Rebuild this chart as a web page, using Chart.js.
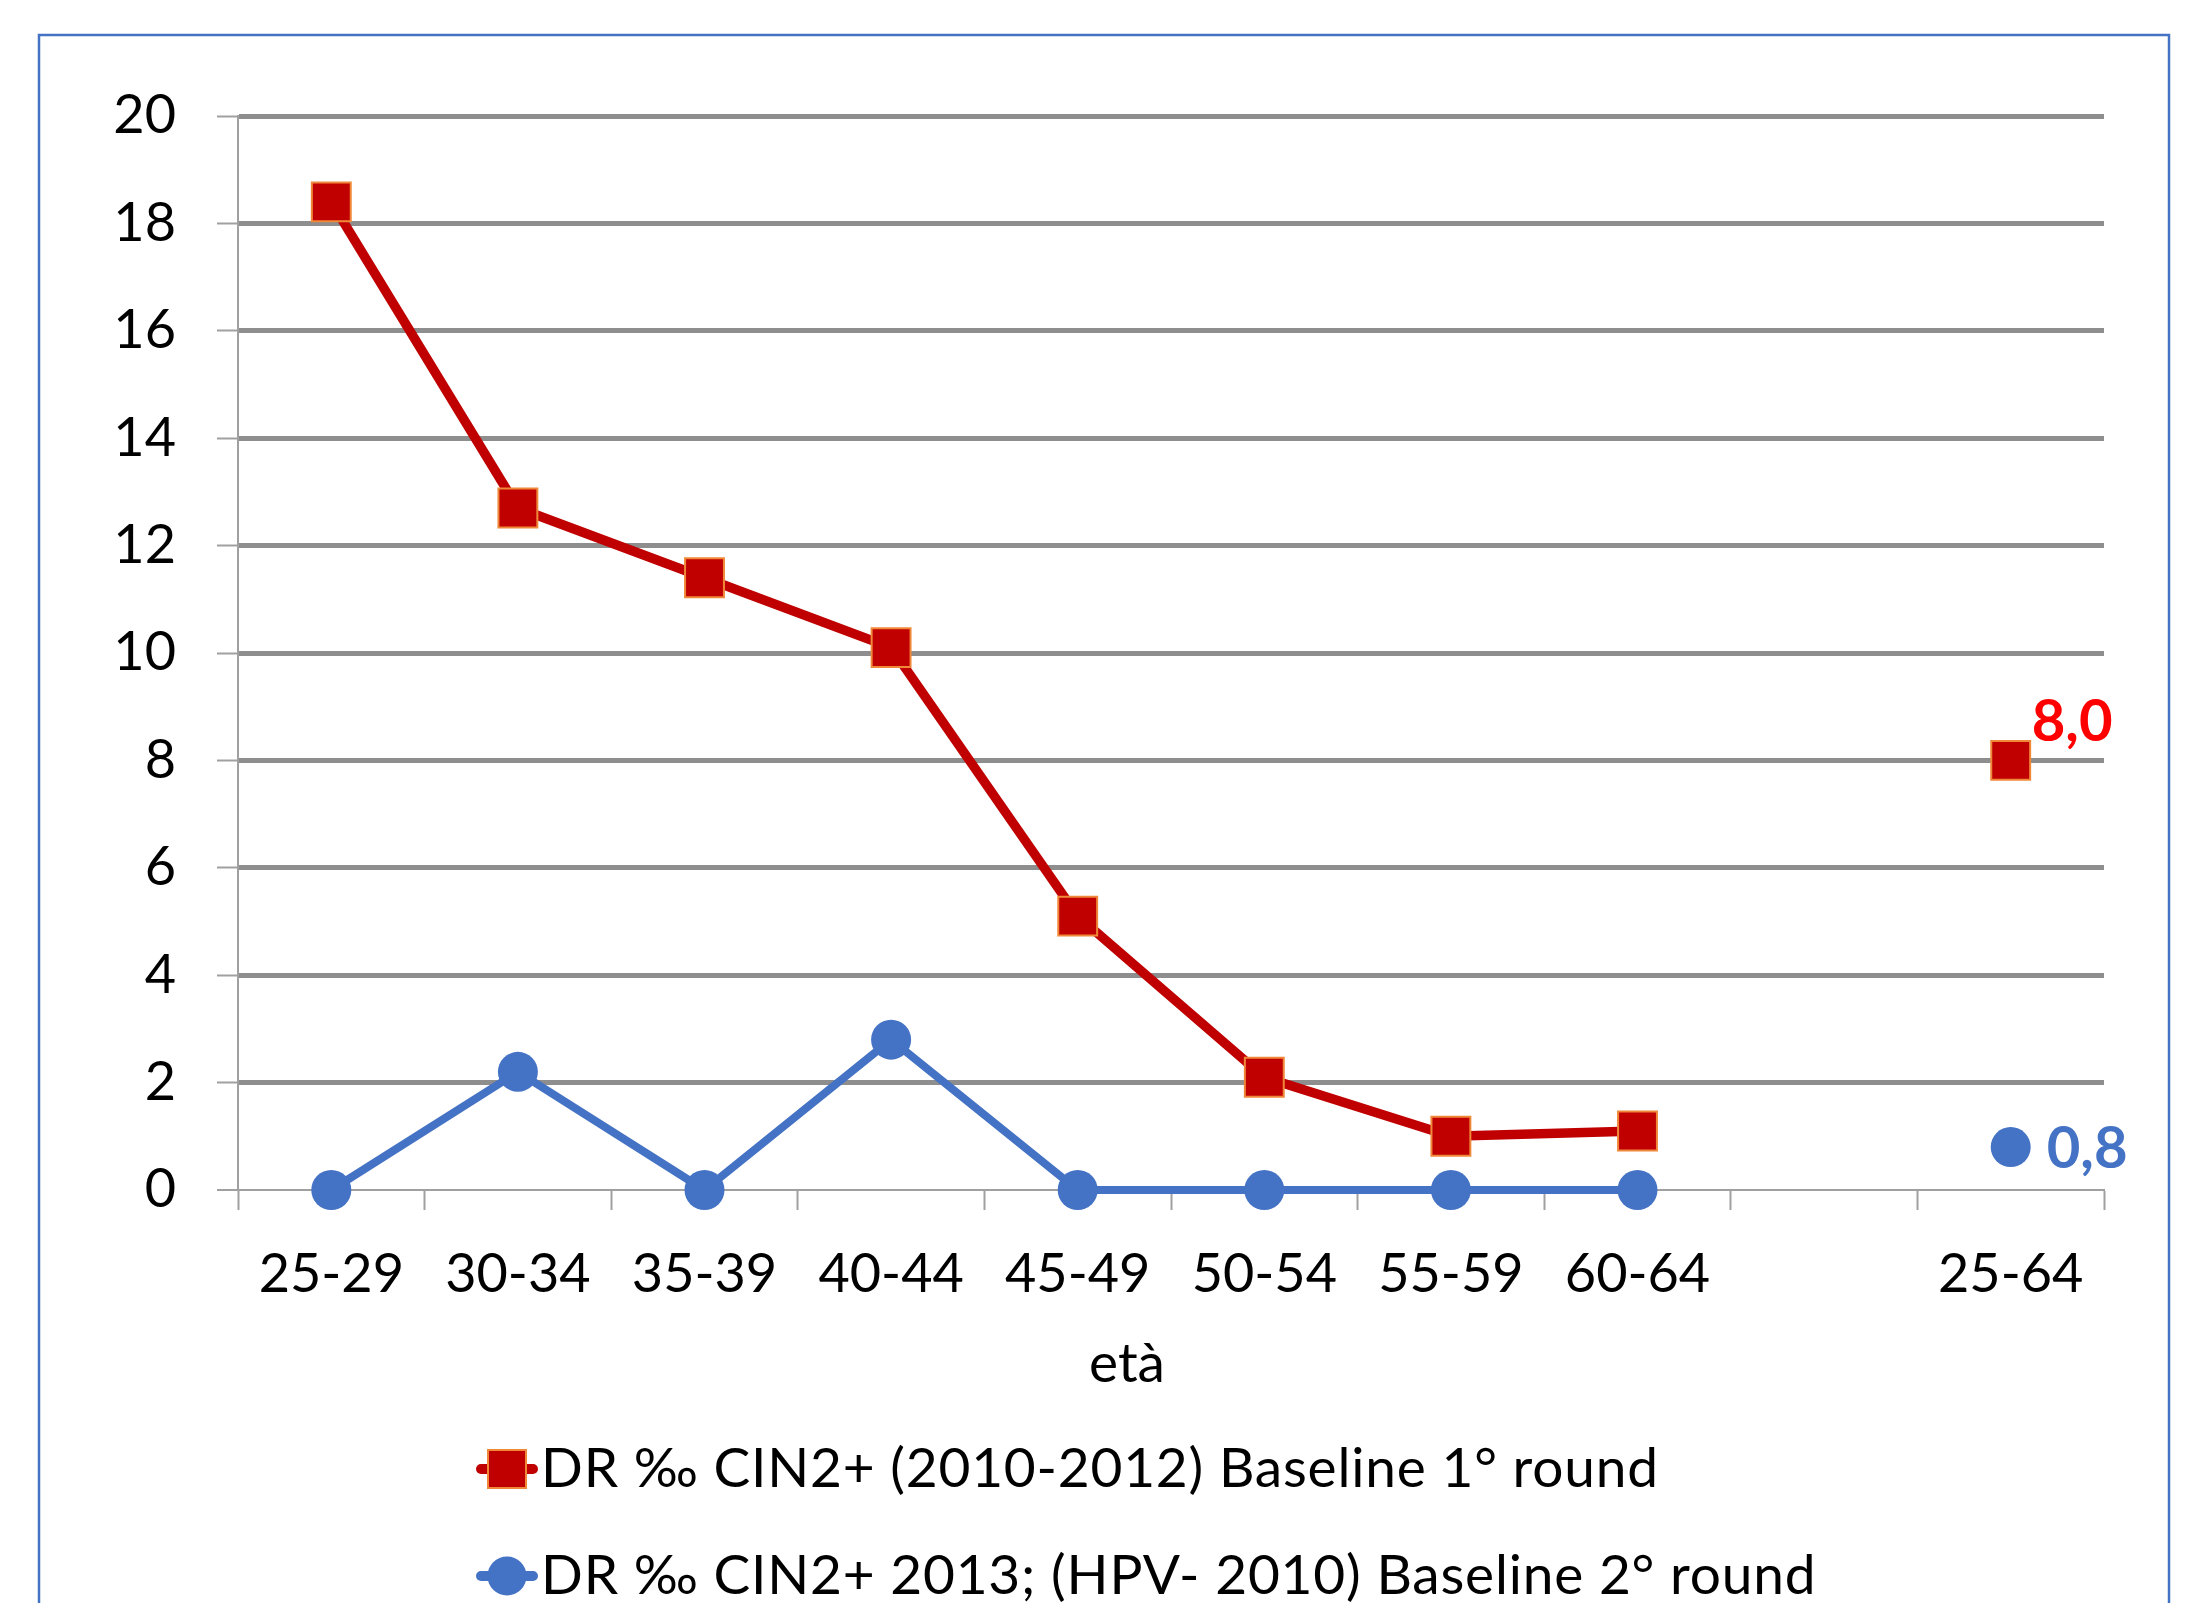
<!DOCTYPE html>
<html>
<head>
<meta charset="utf-8">
<script src="https://cdn.jsdelivr.net/npm/chart.js@4.4.0/dist/chart.umd.min.js"></script>
<style>
  html, body { margin: 0; padding: 0; background: #ffffff; }
  canvas { display: block; }
</style>
</head>
<body>
<canvas id="chart" width="2193" height="1603"></canvas>
<script>
// Age groups on the x axis (one empty slot separates the overall 25-64 group)
const ageGroups = ['25-29', '30-34', '35-39', '40-44', '45-49', '50-54', '55-59', '60-64', '', '25-64'];

// Detection rate ‰ CIN2+ by age group
const round1Values = [18.4, 12.7, 11.4, 10.1, 5.1, 2.1, 1.0, 1.1, null, 8.0];
const round2Values = [0, 2.2, 0, 2.8, 0, 0, 0, 0, null, 0.8];

const seriesNames = [
  'DR ‰ CIN2+ (2010-2012) Baseline 1° round',
  'DR ‰ CIN2+ 2013; (HPV- 2010) Baseline 2° round'
];

const yTickValues = [0, 2, 4, 6, 8, 10, 12, 14, 16, 18, 20];
const xAxisTitle = 'età';

const FONT = 'Lato, Carlito, "Open Sans", sans-serif';
const RED = '#C00000';
const BLUE = '#4472C4';

// Frame around the whole chart
const frame = {
  id: 'frame',
  beforeDraw(chart) {
    const ctx = chart.ctx;
    ctx.save();
    ctx.fillStyle = '#ffffff';
    ctx.fillRect(0, 0, chart.width, chart.height);
    ctx.strokeStyle = BLUE;
    ctx.lineWidth = 2.5;
    ctx.strokeRect(39, 35, 2130, 1700);
    ctx.restore();
  }
};

// Value labels for the overall (25-64) points
const pointLabels = {
  id: 'pointLabels',
  afterDatasetsDraw(chart, args, opts) {
    const ctx = chart.ctx;
    opts.items.forEach(it => {
      const ds = chart.data.datasets[it.dataset];
      const el = chart.getDatasetMeta(it.dataset).data[it.index];
      const v = ds.data[it.index];
      if (!el || v == null) return;
      ctx.save();
      ctx.font = 'bold 58px ' + FONT;
      ctx.fillStyle = it.color;
      ctx.textAlign = 'left';
      ctx.textBaseline = 'alphabetic';
      ctx.fillText(v.toFixed(1).replace('.', ','), el.x + it.dx, el.y + it.dy);
      ctx.restore();
    });
  }
};

// Axis title under the age-group labels
const axisTitle = {
  id: 'axisTitle',
  afterDraw(chart, args, opts) {
    const ctx = chart.ctx;
    ctx.save();
    ctx.font = '55px ' + FONT;
    ctx.fillStyle = '#000000';
    ctx.textAlign = 'center';
    ctx.textBaseline = 'alphabetic';
    ctx.fillText(xAxisTitle, opts.x, opts.y);
    ctx.restore();
  }
};

// Legend stacked in left-aligned rows, each with a line-and-marker swatch
const legendRows = {
  id: 'legendRows',
  afterDraw(chart, args, opts) {
    const ctx = chart.ctx;
    chart.data.datasets.forEach((ds, i) => {
      const cy = opts.top + i * opts.rowGap;
      const x0 = opts.left;
      const mx = x0 + opts.swatch / 2;
      ctx.save();
      ctx.lineCap = 'round';
      ctx.strokeStyle = ds.borderColor;
      ctx.lineWidth = 10;
      ctx.beginPath();
      ctx.moveTo(x0 + 5, cy);
      ctx.lineTo(x0 + opts.swatch - 5, cy);
      ctx.stroke();
      ctx.fillStyle = ds.pointBackgroundColor;
      if (ds.pointStyle === 'rect') {
        ctx.fillRect(mx - 19, cy - 19, 38, 38);
        ctx.strokeStyle = ds.pointBorderColor;
        ctx.lineWidth = 2;
        ctx.strokeRect(mx - 19, cy - 19, 38, 38);
      } else {
        ctx.beginPath();
        ctx.arc(mx, cy, 19.5, 0, Math.PI * 2);
        ctx.fill();
      }
      ctx.fillStyle = '#000000';
      ctx.font = '55px ' + FONT;
      if ('letterSpacing' in ctx) ctx.letterSpacing = '0.8px';
      ctx.textAlign = 'left';
      ctx.textBaseline = 'alphabetic';
      ctx.fillText(ds.label, x0 + opts.swatch + opts.gap, cy + 18);
      ctx.restore();
    });
  }
};

function build() {
  new Chart(document.getElementById('chart'), {
    type: 'line',
    data: {
      labels: ageGroups,
      datasets: [
        {
          label: seriesNames[0],
          data: round1Values,
          borderColor: RED,
          backgroundColor: RED,
          borderWidth: 9.5,
          pointStyle: 'rect',
          pointRadius: 27.5,
          pointHoverRadius: 27.5,
          pointBackgroundColor: RED,
          pointBorderColor: '#F0883A',
          pointBorderWidth: 2,
          spanGaps: false,
          tension: 0,
          clip: false
        },
        {
          label: seriesNames[1],
          data: round2Values,
          borderColor: BLUE,
          backgroundColor: BLUE,
          borderWidth: 8,
          pointStyle: 'circle',
          pointRadius: 20,
          pointHoverRadius: 20,
          pointBackgroundColor: BLUE,
          pointBorderColor: BLUE,
          pointBorderWidth: 0,
          spanGaps: false,
          tension: 0,
          clip: false
        }
      ]
    },
    options: {
      responsive: false,
      animation: false,
      devicePixelRatio: 1,
      layout: { padding: { top: 116, right: 89, left: 0, bottom: 0 } },
      plugins: {
        legend: { display: false },
        tooltip: { enabled: false },
        pointLabels: {
          items: [
            { dataset: 0, index: 9, dx: 21, dy: -19, color: '#FF0000' },
            { dataset: 1, index: 9, dx: 36, dy: 21, color: BLUE }
          ]
        },
        axisTitle: { x: 1127, y: 1382 },
        legendRows: { left: 476, top: 1469, rowGap: 107, swatch: 62, gap: 3 }
      },
      scales: {
        x: {
          type: 'category',
          offset: true,
          grid: {
            display: true,
            offset: true,
            drawOnChartArea: false,
            drawTicks: true,
            tickLength: 20,
            tickColor: '#A0A0A0',
            tickWidth: 2
          },
          border: { display: true, color: '#A0A0A0', width: 2 },
          ticks: {
            autoSkip: false,
            maxRotation: 0,
            minRotation: 0,
            padding: 32,
            color: '#000000',
            font: { family: FONT, size: 54 }
          },
          afterFit(scale) { scale.height = 413; }
        },
        y: {
          min: 0,
          max: 20,
          afterBuildTicks(scale) { scale.ticks = yTickValues.map(v => ({ value: v })); },
          grid: {
            color: ctx => (ctx.tick && ctx.tick.value === 0) ? 'rgba(0,0,0,0)' : '#8E8E8E',
            lineWidth: ctx => (ctx.tick && ctx.tick.value === 0) ? 0 : 5,
            drawTicks: true,
            tickLength: 21,
            tickColor: '#A0A0A0',
            tickWidth: 2
          },
          border: { display: true, color: '#A0A0A0', width: 2 },
          ticks: {
            padding: 41,
            color: '#000000',
            font: { family: FONT, size: 54 }
          },
          afterFit(scale) { scale.width = 238; }
        }
      }
    },
    plugins: [frame, pointLabels, axisTitle, legendRows]
  });
}

if (document.fonts && document.fonts.load) {
  Promise.all([
    document.fonts.load('54px Lato'),
    document.fonts.load('bold 58px Lato')
  ]).then(build, build);
} else {
  build();
}
</script>
</body>
</html>
